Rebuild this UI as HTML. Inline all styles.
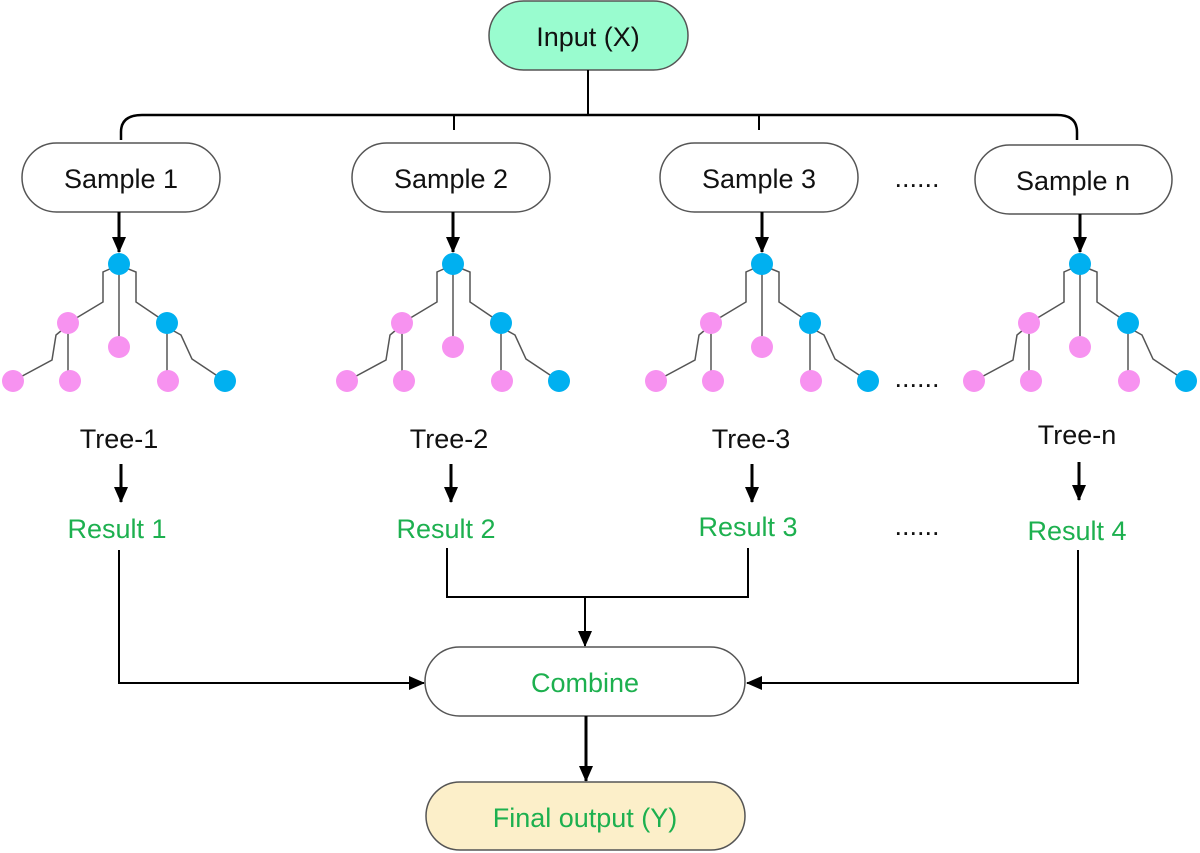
<!DOCTYPE html>
<html><head><meta charset="utf-8"><style>
html,body{margin:0;padding:0;background:#fff;}
svg{display:block;font-family:"Liberation Sans",sans-serif;}
</style></head><body>
<svg width="1200" height="853" viewBox="0 0 1200 853" xmlns="http://www.w3.org/2000/svg">
<defs>
<marker id="ab" markerWidth="16" markerHeight="16" refX="15" refY="8" orient="auto" markerUnits="userSpaceOnUse">
<path d="M0,1 L16,8 L0,15 Z" fill="#000"/></marker>
<g id="tree">
<g stroke="#555" stroke-width="1.5" fill="none">
<path d="M112,268 L103,272 L103,302 L68,323"/>
<path d="M126,268 L136,272 L136,302 L167,323"/>
<path d="M119,265 L119,347"/>
<path d="M68,323 L68,381"/>
<path d="M62,330 L56,335 L52,360 L13,381"/>
<path d="M167,323 L167,381"/>
<path d="M172,330 L181,335 L192,359 L225,381"/>
</g>
<circle cx="119" cy="264" r="11" fill="#00b0f0"/>
<circle cx="68" cy="323" r="11" fill="#f792f0"/>
<circle cx="119" cy="347" r="11" fill="#f792f0"/>
<circle cx="167" cy="323" r="11" fill="#00b0f0"/>
<circle cx="13" cy="381" r="11" fill="#f792f0"/>
<circle cx="70" cy="381" r="11" fill="#f792f0"/>
<circle cx="168" cy="381" r="11" fill="#f792f0"/>
<circle cx="225" cy="381" r="11" fill="#00b0f0"/>
</g>
</defs>

<rect x="489" y="1" width="199" height="69" rx="34.5" fill="#99fccf" stroke="#555" stroke-width="1.5"/>
<text x="588" y="46" font-size="27" text-anchor="middle" fill="#111">Input (X)</text>
<line x1="588" y1="70" x2="588" y2="115" stroke="#000" stroke-width="2"/>
<path d="M121,140 L121,132 Q121,115 142,115 L1057,115 Q1077,115 1077,132 L1077,140" fill="none" stroke="#000" stroke-width="2.5"/>
<line x1="454" y1="115" x2="454" y2="130" stroke="#000" stroke-width="2"/>
<line x1="759" y1="115" x2="759" y2="130" stroke="#000" stroke-width="2"/>

<g stroke="#555" stroke-width="1.5" fill="#fff">
<rect x="22" y="143" width="198" height="69" rx="34.5"/>
<rect x="352" y="143" width="198" height="69" rx="34.5"/>
<rect x="660" y="143" width="198" height="69" rx="34.5"/>
<rect x="975" y="145" width="197" height="69" rx="34.5"/>
</g>
<g font-size="27" text-anchor="middle" fill="#111">
<text x="121" y="188">Sample 1</text>
<text x="451" y="188">Sample 2</text>
<text x="759" y="188">Sample 3</text>
<text x="1073" y="190">Sample n</text>
<text x="917" y="187">......</text>
<text x="917" y="387">......</text>
<text x="917" y="535">......</text>
</g>

<g stroke="#000" stroke-width="3">
<line x1="119" y1="212" x2="119" y2="252" marker-end="url(#ab)"/>
<line x1="453" y1="212" x2="453" y2="252" marker-end="url(#ab)"/>
<line x1="762" y1="212" x2="762" y2="252" marker-end="url(#ab)"/>
<line x1="1080" y1="214" x2="1080" y2="252" marker-end="url(#ab)"/>
</g>
<use href="#tree"/>
<use href="#tree" transform="translate(334,0)"/>
<use href="#tree" transform="translate(643,0)"/>
<use href="#tree" transform="translate(961,0)"/>

<g font-size="27" text-anchor="middle" fill="#111">
<text x="119" y="448">Tree-1</text>
<text x="449" y="448">Tree-2</text>
<text x="751" y="448">Tree-3</text>
<text x="1077" y="444">Tree-n</text>
</g>
<g stroke="#000" stroke-width="3">
<line x1="121" y1="464" x2="121" y2="502" marker-end="url(#ab)"/>
<line x1="451" y1="464" x2="451" y2="502" marker-end="url(#ab)"/>
<line x1="752" y1="464" x2="752" y2="502" marker-end="url(#ab)"/>
<line x1="1079" y1="462" x2="1079" y2="500" marker-end="url(#ab)"/>
</g>
<g font-size="27" text-anchor="middle" fill="#1db04f">
<text x="117" y="538">Result 1</text>
<text x="446" y="538">Result 2</text>
<text x="748" y="536">Result 3</text>
<text x="1077" y="540">Result 4</text>
</g>

<g fill="none" stroke="#000" stroke-width="2">
<path d="M119,550 L119,683 L424,683" marker-end="url(#ab)"/>
<path d="M447,548 L447,597 L748,597 L748,548"/>
<path d="M585,597 L585,646" marker-end="url(#ab)"/>
<path d="M1078,550 L1078,683 L747,683" marker-end="url(#ab)"/>
</g>

<rect x="425" y="647" width="320" height="69" rx="34.5" fill="#fff" stroke="#555" stroke-width="1.5"/>
<text x="585" y="692" font-size="27" text-anchor="middle" fill="#1db04f">Combine</text>
<line x1="586" y1="716" x2="586" y2="781" stroke="#000" stroke-width="3" marker-end="url(#ab)"/>
<rect x="426" y="782" width="319" height="68" rx="34" fill="#fcefc9" stroke="#555" stroke-width="1.5"/>
<text x="585" y="827" font-size="27" text-anchor="middle" fill="#1db04f">Final output (Y)</text>
</svg>
</body></html>
